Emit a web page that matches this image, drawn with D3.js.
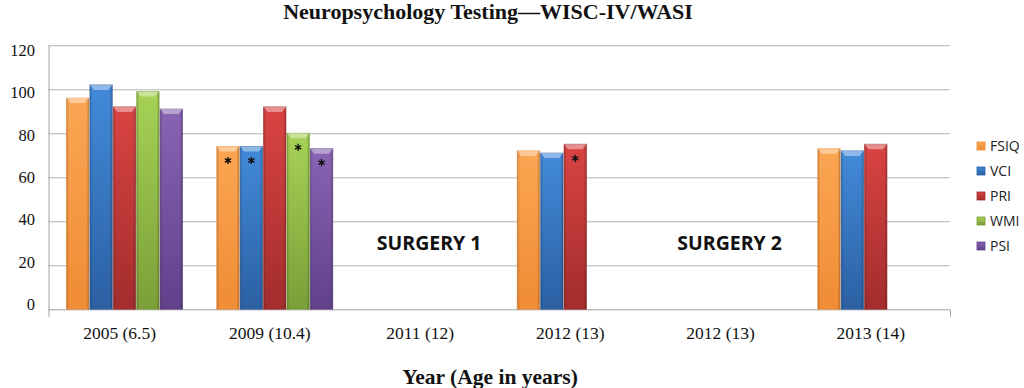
<!DOCTYPE html>
<html>
<head>
<meta charset="utf-8">
<script src="https://cdn.jsdelivr.net/npm/d3@7"></script>
<style>
  body { margin: 0; background: #fff; }
  svg { display: block; }
</style>
</head>
<body>
<div id="chart"></div>
<script>
// data
var years  = ['2005 (6.5)', '2009 (10.4)', '2011 (12)', '2012 (13)', '2012 (13)', '2013 (14)'];
var series = ['FSIQ', 'VCI', 'PRI', 'WMI', 'PSI'];
var FSIQ = [96, 74, null, 72, null, 73];
var VCI  = [102, 74, null, 71, null, 72];
var PRI  = [92, 92, null, 75, null, 75];
var WMI  = [99, 80, null, null, null, null];
var PSI  = [91, 73, null, null, null, null];
var yTicks = [0, 20, 40, 60, 80, 100, 120];
// bars that carry an asterisk: [year index, series]
var starred = [[1, 'FSIQ'], [1, 'VCI'], [1, 'WMI'], [1, 'PSI'], [3, 'PRI']];
// surgeries sit in empty year slots
var surgeries = [[2, 'SURGERY 1'], [4, 'SURGERY 2']];

var values = { FSIQ: FSIQ, VCI: VCI, PRI: PRI, WMI: WMI, PSI: PSI };
var colors = {
  FSIQ: ['#FBA653', '#F08C35'],
  VCI:  ['#428AD9', '#2C60A3'],
  PRI:  ['#D94343', '#A32D2D'],
  WMI:  ['#A6D256', '#7B9F38'],
  PSI:  ['#8864B3', '#62418B']
};

var W = 1024, H = 388;
var margin = { top: 45.3, left: 48.5 };
var width  = 901.5;
var height = 264;

var svg = d3.select('#chart').append('svg')
  .attr('width', W)
  .attr('height', H);

var defs = svg.append('defs');
series.forEach(function(s) {
  var g = defs.append('linearGradient')
    .attr('id', 'grad-' + s)
    .attr('x1', 0).attr('y1', 0).attr('x2', 0).attr('y2', 1);
  g.append('stop').attr('offset', '0%').attr('stop-color', colors[s][0]);
  g.append('stop').attr('offset', '100%').attr('stop-color', colors[s][1]);
  var h = defs.append('linearGradient')
    .attr('id', 'side-' + s)
    .attr('x1', 0).attr('y1', 0).attr('x2', 1).attr('y2', 0);
  h.append('stop').attr('offset', '0%').attr('stop-color', '#000').attr('stop-opacity', 0.18);
  h.append('stop').attr('offset', '12%').attr('stop-color', '#000').attr('stop-opacity', 0);
  h.append('stop').attr('offset', '88%').attr('stop-color', '#000').attr('stop-opacity', 0);
  h.append('stop').attr('offset', '100%').attr('stop-color', '#000').attr('stop-opacity', 0.22);
});

var chart = svg.append('g')
  .attr('transform', 'translate(' + margin.left + ',' + margin.top + ')');

// scales
var x0 = d3.scaleBand()
  .domain(d3.range(years.length))
  .range([0, width]);

var x1 = d3.scaleBand()
  .domain(series)
  .range([17.5, 17.5 + 117]);

var y = d3.scaleLinear()
  .domain([0, 120])
  .range([height, 0]);

// tick labels in the picture drift up a little toward the bottom
var yLabel = d3.scaleLinear()
  .domain([0, 120])
  .range([height - 5, 5]);

// gridlines
chart.append('g')
  .selectAll('line')
  .data(yTicks.filter(function(t) { return t > 0; }))
  .enter().append('line')
  .attr('x1', 0)
  .attr('x2', width)
  .attr('y1', function(d) { return Math.round(y(d)) + 0.5; })
  .attr('y2', function(d) { return Math.round(y(d)) + 0.5; })
  .attr('stroke', '#B3B3B3')
  .attr('stroke-width', 1);

// y tick labels
chart.append('g')
  .selectAll('text')
  .data(yTicks)
  .enter().append('text')
  .attr('x', 35 - margin.left)
  .attr('y', function(d) { return yLabel(d); })
  .attr('dy', '0.35em')
  .attr('text-anchor', 'end')
  .attr('font-family', '"Liberation Serif", "Times New Roman", serif')
  .attr('font-size', '16.5px')
  .attr('fill', '#111')
  .text(function(d) { return d; });

// axes lines
var yBase = Math.round(y(0)) + 0.5;
chart.append('line')
  .attr('x1', 0).attr('x2', width)
  .attr('y1', yBase).attr('y2', yBase)
  .attr('stroke', '#A0A0A0');
chart.append('line')
  .attr('x1', 0.5).attr('x2', 0.5)
  .attr('y1', 0).attr('y2', yBase + 7)
  .attr('stroke', '#A0A0A0');
chart.append('line')
  .attr('x1', width + 0.5).attr('x2', width + 0.5)
  .attr('y1', yBase).attr('y2', yBase + 7)
  .attr('stroke', '#A0A0A0');

// x tick labels through a bottom axis
var xAxis = d3.axisBottom(x0)
  .tickSize(0)
  .tickPadding(17)
  .tickFormat(function(i) { return years[i]; });
var xGuide = chart.append('g')
  .attr('transform', 'translate(-4,' + height + ')')
  .call(xAxis);
xGuide.select('.domain').remove();
xGuide.selectAll('text')
  .attr('font-family', '"Liberation Serif", "Times New Roman", serif')
  .attr('font-size', '17.5px')
  .attr('fill', '#111');

// bars
var bars = [];
years.forEach(function(yr, i) {
  series.forEach(function(s) {
    var v = values[s][i];
    if (v != null) bars.push({ i: i, s: s, v: v });
  });
});

var barG = chart.append('g').selectAll('g')
  .data(bars)
  .enter().append('g')
  .attr('transform', function(d) { return 'translate(' + (x0(d.i) + x1(d.s)) + ',0)'; });

barG.append('rect')
  .attr('x', 0.5)
  .attr('y', function(d) { return y(d.v); })
  .attr('width', x1.bandwidth() - 1)
  .attr('height', function(d) { return height - y(d.v); })
  .attr('fill', function(d) { return 'url(#grad-' + d.s + ')'; })
  .attr('stroke', function(d) { return colors[d.s][1]; })
  .attr('stroke-opacity', 0.6);

barG.append('rect')
  .attr('x', 0.5)
  .attr('y', function(d) { return y(d.v); })
  .attr('width', x1.bandwidth() - 1)
  .attr('height', function(d) { return height - y(d.v); })
  .attr('fill', function(d) { return 'url(#side-' + d.s + ')'; });

// light bevel at the top of each bar
barG.append('path')
  .attr('d', function(d) {
    var t = y(d.v), w = x1.bandwidth() - 1;
    return 'M0.5,' + t + 'H' + (w + 0.5) + 'L' + (w - 3.5) + ',' + (t + 5) +
      'H4.5Z';
  })
  .attr('fill', '#fff')
  .attr('fill-opacity', 0.4);

// asterisks
chart.append('g').selectAll('path')
  .data(starred)
  .enter().append('path')
  .attr('d', d3.symbol(d3.symbolAsterisk, 36))
  .attr('transform', function(d) {
    var v = values[d[1]][d[0]];
    return 'translate(' + (x0(d[0]) + x1(d[1]) + x1.bandwidth() / 2) + ',' + (y(v) + 14) + ')';
  })
  .attr('stroke', '#111')
  .attr('stroke-width', 1.4)
  .attr('fill', 'none');

// surgery labels
chart.append('g').selectAll('text')
  .data(surgeries)
  .enter().append('text')
  .attr('x', function(d) { return x0(d[0]) + x0.bandwidth() / 2 + 5; })
  .attr('y', 250 - margin.top)
  .attr('text-anchor', 'middle')
  .attr('font-family', '"Open Sans", sans-serif')
  .attr('font-weight', 'bold')
  .attr('font-size', '19.5px')
  .attr('fill', '#111')
  .text(function(d) { return d[1]; });

// legend
var legend = svg.append('g')
  .attr('transform', 'translate(977,146)');
var item = legend.selectAll('g')
  .data(series)
  .enter().append('g')
  .attr('transform', function(d, i) { return 'translate(0,' + (i * 25) + ')'; });
item.append('rect')
  .attr('x', 0).attr('y', -4)
  .attr('width', 8).attr('height', 8)
  .attr('fill', function(d) { return 'url(#grad-' + d + ')'; })
  .attr('stroke', function(d) { return colors[d][1]; })
  .attr('stroke-width', 0.8);
item.append('text')
  .attr('x', 13)
  .attr('y', 0)
  .attr('dy', '0.35em')
  .attr('font-family', '"Open Sans", sans-serif')
  .attr('font-size', '14px')
  .attr('fill', '#222')
  .text(function(d) { return d; });

// title
svg.append('text')
  .attr('x', 488)
  .attr('y', 19)
  .attr('text-anchor', 'middle')
  .attr('font-family', '"Liberation Serif", "Times New Roman", serif')
  .attr('font-weight', 'bold')
  .attr('font-size', '22px')
  .attr('fill', '#111')
  .text('Neuropsychology Testing\u2014WISC-IV/WASI');

// x-axis title
svg.append('text')
  .attr('x', 490)
  .attr('y', 384)
  .attr('text-anchor', 'middle')
  .attr('font-family', '"Liberation Serif", "Times New Roman", serif')
  .attr('font-weight', 'bold')
  .attr('font-size', '21.5px')
  .attr('fill', '#111')
  .text('Year (Age in years)');
</script>
</body>
</html>
